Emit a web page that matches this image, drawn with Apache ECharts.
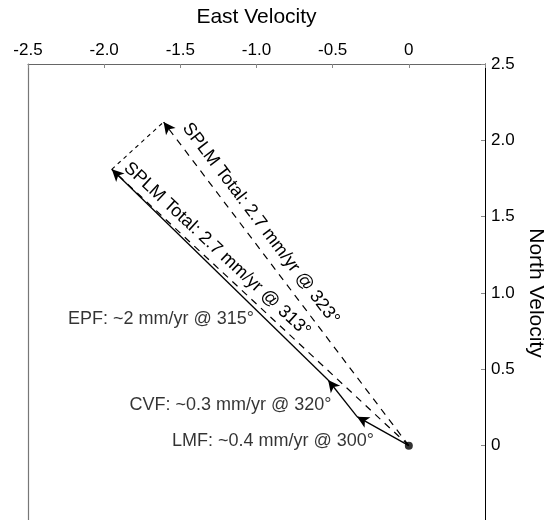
<!DOCTYPE html>
<html>
<head>
<meta charset="utf-8">
<script src="https://cdn.jsdelivr.net/npm/echarts@6/dist/echarts.min.js"></script>
<style>html,body{margin:0;padding:0;background:#fff;}#c{width:544px;height:520px;}</style>
</head>
<body>
<div id="c"></div>
<script>
// Chained component vectors (tips, in mm/yr), starting at the origin
const chainNames = ['LMF', 'CVF', 'EPF'];
const chainEast = [0, -0.34, -0.53, -1.95];
const chainNorth = [0, 0.19, 0.43, 1.81];
const chainLabels = ['LMF: ~0.4 mm/yr @ 300°', 'CVF: ~0.3 mm/yr @ 320°', 'EPF: ~2 mm/yr @ 315°'];
// Total vectors (from origin)
const totalEast = [-1.95, -1.61];
const totalNorth = [1.81, 2.12];
const totalLabels = ['SPLM Total: 2.7 mm/yr @ 313°', 'SPLM Total: 2.7 mm/yr @ 323°'];
// Axis ticks
const xTickValues = [-2.5, -2.0, -1.5, -1.0, -0.5, 0];
const yTickValues = [0, 0.5, 1.0, 1.5, 2.0, 2.5];

const FONT = 'Liberation Sans, Arial, Helvetica, sans-serif';
const chart = echarts.init(document.getElementById('c'), null, {renderer: 'canvas'});

function fmt(v) { return v === 0 ? '0' : v.toFixed(1); }

const lines = [];
// chained solid arrows
for (let i = 0; i < chainNames.length; i++) {
  lines.push([
    {coord: [chainEast[i], chainNorth[i]], symbol: 'none',
     lineStyle: {color: '#000', width: 1.3, type: 'solid'}, label: {show: false}},
    {coord: [chainEast[i + 1], chainNorth[i + 1]], symbol: 'arrow'}
  ]);
}
// totals (dashed)
const totalLabelDist = [[8, 4], [16, 7]];
totalLabels.forEach((t, i) => {
  lines.push([
    {coord: [0, 0], symbol: 'none',
     lineStyle: {color: '#000', width: 1.2, type: [7, 6]},
     label: {show: true, formatter: t, position: 'insideEndTop', distance: totalLabelDist[i],
             color: '#000', fontSize: 18, fontFamily: FONT}},
    {coord: [totalEast[i], totalNorth[i]], symbol: i === 1 ? 'arrow' : 'none'}
  ]);
});
// connector from EPF tip to 323 total tip
lines.push([
  {coord: [chainEast[3], chainNorth[3]], symbol: 'none',
   lineStyle: {color: '#000', width: 1.1, type: [4, 4]}, label: {show: false}},
  {coord: [totalEast[1], totalNorth[1]], symbol: 'none'}
]);

// label anchors at vector midpoints
const labelOffsets = [[-9, 10], [-11, 7], [34, 44]];
const labelPts = chainNames.map((n, i) => ({
  value: [(chainEast[i] + chainEast[i + 1]) / 2, (chainNorth[i] + chainNorth[i + 1]) / 2],
  label: {offset: labelOffsets[i], formatter: chainLabels[i]}
}));

chart.setOption({
  animation: false,
  backgroundColor: '#fff',
  grid: {left: 28, top: 64, width: 457, height: 458, containLabel: false, outerBoundsMode: 'none'},
  xAxis: {
    type: 'value', position: 'top', min: -2.5, max: 0.5, interval: 0.5,
    name: 'East Velocity', nameLocation: 'middle', nameGap: 36,
    nameTextStyle: {fontSize: 21, fontFamily: FONT, color: '#000'},
    axisLine: {show: true, onZero: false, lineStyle: {color: '#666', width: 1}},
    axisTick: {show: true, inside: true, length: 4, lineStyle: {color: '#888'}},
    axisLabel: {fontSize: 17, fontFamily: FONT, color: '#000', margin: 5,
      formatter: v => xTickValues.indexOf(v) >= 0 ? fmt(v) : ''},
    splitLine: {show: false}
  },
  yAxis: [{
    type: 'value', position: 'right', min: -0.5, max: 2.5, interval: 0.5,
    name: 'North Velocity', nameLocation: 'middle', nameGap: 32, nameRotate: -90,
    nameTextStyle: {fontSize: 21, fontFamily: FONT, color: '#000'},
    axisLine: {show: true, onZero: false, lineStyle: {color: '#000', width: 1}},
    axisTick: {show: true, inside: true, length: 4, lineStyle: {color: '#888'}},
    axisLabel: {fontSize: 17, fontFamily: FONT, color: '#000', margin: 6,
      formatter: v => yTickValues.indexOf(v) >= 0 ? fmt(v) : ''},
    splitLine: {show: false}
  }, {
    type: 'value', position: 'left', min: -0.5, max: 2.5,
    axisLine: {show: true, onZero: false, lineStyle: {color: '#777', width: 1.2}},
    axisTick: {show: false}, axisLabel: {show: false}, splitLine: {show: false}
  }],
  series: [{
    type: 'line', data: [[0, 0]], symbol: 'none', silent: true,
    markLine: {
      silent: true, animation: false, symbolSize: [9, 12], precision: 4,
      data: lines
    }
  }, {
    type: 'scatter', data: [[chainEast[0], chainNorth[0]]], symbolSize: 8,
    itemStyle: {color: '#000'}, silent: true
  }, {
    type: 'scatter', data: labelPts, symbolSize: 0, silent: true,
    label: {show: true, position: 'left', distance: 0, color: '#000',
            fontSize: 18, fontFamily: FONT}
  }]
});
</script>
</body>
</html>
